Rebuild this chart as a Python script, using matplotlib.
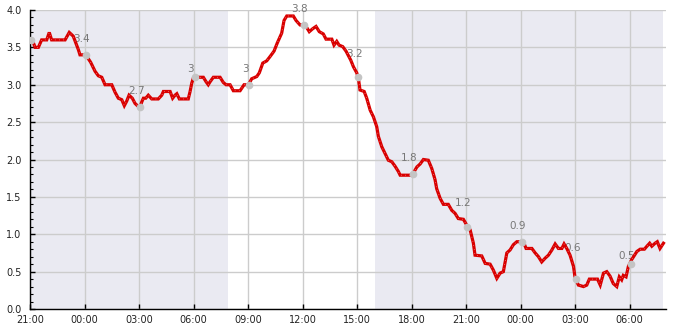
import numpy as np
import pandas as pd
import matplotlib
matplotlib.use('Agg')
import matplotlib.pyplot as plt
import matplotlib.dates as mdates
from matplotlib.ticker import MultipleLocator

# hours after 21:00 on day one, and the measured value
hours = [0.0, 0.13, 0.28, 0.46, 0.64, 0.92, 1.06, 1.19, 1.93, 2.16, 2.38, 2.66, 2.75, 3.03, 3.15,
         3.34, 3.58, 3.76, 3.95, 4.13, 4.50, 4.68, 4.86, 5.05, 5.19, 5.32, 5.45, 5.63, 5.78, 5.91,
         6.05, 6.15, 6.24, 6.37, 6.51, 6.70, 7.06, 7.25, 7.34, 7.71, 7.85, 7.98, 8.08, 8.22, 8.71,
         8.81, 8.90, 8.99, 9.18, 9.54, 9.69, 9.81, 9.91, 10.09, 10.46, 10.64, 10.79, 11.01, 11.19,
         11.56, 11.78, 12.02, 12.20, 12.48, 12.62, 12.81, 13.03, 13.25, 13.43, 13.61, 13.85, 13.98,
         14.13, 14.49, 14.64, 14.86, 15.14, 15.37, 15.56, 15.74, 15.92, 16.14, 16.29, 16.61, 16.73,
         16.88, 17.01, 17.21, 17.39, 17.65, 17.80, 17.98, 18.07, 18.16, 18.39, 18.53, 18.72, 18.90,
         19.08, 19.17, 19.36, 19.54, 19.72, 19.91, 20.09, 20.27, 20.37, 20.92, 21.10, 21.29, 21.47,
         21.65, 21.92, 22.11, 22.29, 22.38, 22.57, 22.75, 23.02, 23.21, 23.39, 23.57, 23.85, 24.04,
         24.22, 24.40, 24.49, 24.86, 25.05, 25.32, 25.50, 25.69, 25.87, 26.05, 26.24, 26.42, 26.60,
         26.79, 27.15, 27.30, 27.62, 27.80, 27.98, 28.16, 28.35, 28.53, 28.72, 28.90, 29.08, 29.27,
         29.39, 29.54, 29.72, 29.91, 30.00, 30.18, 30.46, 30.64, 30.78, 31.23, 31.38, 31.56, 31.74,
         31.92, 32.10, 32.29, 32.43, 32.56, 32.65, 32.80, 32.93, 33.11, 33.40, 33.58, 33.81, 33.95,
         34.10, 34.22, 34.40, 34.52, 34.67, 34.86]
values = [3.6, 3.6, 3.5, 3.5, 3.6, 3.6, 3.7, 3.6, 3.6, 3.7, 3.65, 3.47, 3.4, 3.4, 3.37,
          3.3, 3.18, 3.12, 3.1, 3.0, 3.0, 2.9, 2.82, 2.8, 2.72, 2.78, 2.86, 2.82, 2.75, 2.72,
          2.7, 2.77, 2.82, 2.82, 2.86, 2.81, 2.81, 2.86, 2.91, 2.91, 2.82, 2.86, 2.88, 2.81, 2.81,
          2.91, 3.02, 3.09, 3.1, 3.1, 3.04, 3.0, 3.04, 3.1, 3.1, 3.03, 3.0, 3.0, 2.92,
          2.92, 3.0, 3.0, 3.08, 3.11, 3.16, 3.29, 3.32, 3.39, 3.45, 3.56, 3.69, 3.86,
          3.92, 3.92, 3.86, 3.8, 3.8, 3.71, 3.75, 3.78, 3.71, 3.68, 3.61, 3.61, 3.53,
          3.58, 3.53, 3.51, 3.45, 3.33, 3.24, 3.16, 3.09, 2.93, 2.91, 2.82, 2.66, 2.57,
          2.44, 2.31, 2.17, 2.08, 1.99, 1.97, 1.91, 1.84, 1.79, 1.79, 1.82, 1.9, 1.94,
          2.0, 1.99, 1.88, 1.73, 1.61, 1.48, 1.4, 1.4, 1.32, 1.28, 1.21, 1.2, 1.12,
          1.06, 0.88, 0.72, 0.71, 0.61, 0.6, 0.52, 0.41, 0.48, 0.5, 0.75, 0.79, 0.86,
          0.9, 0.9, 0.81, 0.81, 0.75, 0.7, 0.63, 0.68, 0.72, 0.79, 0.87, 0.81, 0.81,
          0.87, 0.81, 0.72, 0.57, 0.41, 0.32, 0.3, 0.32, 0.4, 0.4, 0.32, 0.48, 0.5,
          0.44, 0.34, 0.3, 0.43, 0.39, 0.45, 0.43, 0.57, 0.66, 0.77, 0.8, 0.8, 0.84,
          0.88, 0.84, 0.88, 0.9, 0.81, 0.88]

# three-hourly marked points and their labels
mark_hours = [0.07, 3.07, 6.07, 9.07, 12.07, 15.07, 18.07, 21.07, 24.07, 27.07, 30.07, 33.07]
mark_values = [3.6, 3.4, 2.7, 3.1, 3.0, 3.8, 3.1, 1.8, 1.1, 0.9, 0.4, 0.6]
mark_labels = ['', '3.4', '2.7', '3', '3', '3.8', '3.2', '1.8', '1.2', '0.9', '0.6', '0.5']
label_values = [3.6, 3.4, 2.7, 3.0, 3.0, 3.8, 3.2, 1.8, 1.2, 0.9, 0.6, 0.5]

# dark periods (hours after start)
night_start = [0.0, 19.0]
night_end = [10.9, 34.85]

start = pd.Timestamp('2024-01-10 21:00')
to_time = lambda h: start + pd.to_timedelta(np.asarray(h), unit='h')

fig = plt.figure(figsize=(6.85, 3.30), dpi=100)
ax = fig.add_axes([30 / 685, 21 / 330, 636 / 685, 299 / 330])

for s, e in zip(night_start, night_end):
    ax.axvspan(to_time(s), to_time(e), color='#eaeaf2', lw=0, zorder=0)

ax.grid(True, color='#cccccc', lw=1, zorder=1)
ax.set_axisbelow(True)

t = to_time(hours)
ax.plot(t, values, color='#d90000', lw=2.3, solid_joinstyle='miter', zorder=3)
ax.plot(t, values, color='white', lw=0.5, ls=(0, (1, 5)), alpha=0.7, zorder=3)

ax.plot(to_time(mark_hours), mark_values, 'o', color='#c4c4c4', ms=4.5, zorder=4)
for h, lv, lab in zip(mark_hours, label_values, mark_labels):
    if lab:
        ax.annotate(lab, (to_time(h), lv), xytext=(-4, 11), textcoords='offset pixels',
                    ha='center', va='bottom', fontsize=7.5, color='#777777',
                    zorder=2, annotation_clip=False)

ax.set_xlim(to_time(0), to_time(35.0))
ax.set_ylim(0, 4.0)
ax.xaxis.set_major_locator(mdates.HourLocator(byhour=range(0, 24, 3)))
ax.xaxis.set_major_formatter(mdates.DateFormatter('%H:%M'))
ax.yaxis.set_major_locator(MultipleLocator(0.5))
ax.yaxis.set_minor_locator(MultipleLocator(0.1))
ax.yaxis.set_major_formatter(lambda v, p: f'{v:.1f}')

for side in ['top', 'right']:
    ax.spines[side].set_visible(False)
for side in ['left', 'bottom']:
    ax.spines[side].set_color('black')
    ax.spines[side].set_linewidth(1)
ax.tick_params(axis='both', which='major', direction='in', length=3.5, width=1,
               labelsize=7, colors='black', labelcolor='#222222')
ax.tick_params(axis='y', which='minor', direction='in', length=2.2, width=0.8)
ax.tick_params(axis='y', which='major', pad=6)
ax.tick_params(axis='x', which='major', pad=4)
ax.set_facecolor('white')

plt.savefig('out.png', dpi=100)
